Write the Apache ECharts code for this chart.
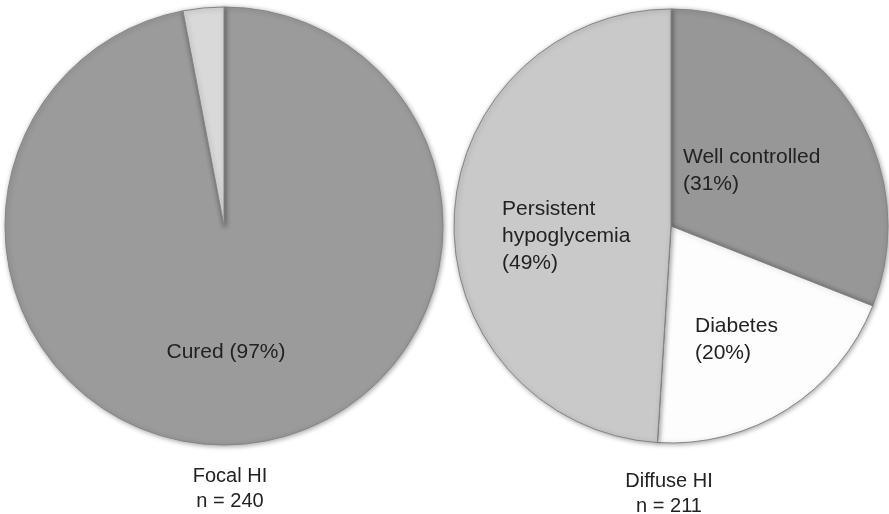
<!DOCTYPE html>
<html>
<head>
<meta charset="utf-8">
<script src="https://cdn.jsdelivr.net/npm/echarts@6/dist/echarts.min.js"></script>
<style>
  html, body { margin: 0; padding: 0; background: #fff; }
  #chart { width: 889px; height: 514px; }
</style>
</head>
<body>
<div id="chart"></div>
<script>
// focal HI outcomes
const focalNames = ['Cured', 'Other']
const focalValues = [97, 3]
const focalTitle = 'Focal HI\nn = 240'

// diffuse HI outcomes
const diffuseNames = ['Well controlled', 'Diabetes', 'Persistent\nhypoglycemia']
const diffuseValues = [31, 20, 49]
const diffuseTitle = 'Diffuse HI\nn = 211'

const font = 'Liberation Sans, Arial, sans-serif'
const textColor = '#222'

const chart = echarts.init(document.getElementById('chart'))

// label anchor positions (pixels), per slice
const focalLabelPos = [[226, 352], null]
const diffuseLabelPos = [[683, 171], [695, 340], [502, 236]]

const pieBase = {
  type: 'pie',
  startAngle: 90,
  clockwise: true,
  animation: false,
  silent: true,
  labelLine: { show: false },
  emphasis: { disabled: true }
}

const sliceStyle = {
  borderColor: '#858585',
  borderWidth: 1,
  shadowColor: 'rgba(0,0,0,0.35)',
  shadowBlur: 5,
  shadowOffsetX: 1,
  shadowOffsetY: 1
}

const titleStyle = { fontFamily: font, fontSize: 20, fontWeight: 'normal', color: textColor, lineHeight: 25 }

const options = {
  backgroundColor: '#fff',
  title: [
    { text: focalTitle, left: 225, top: 459, textAlign: 'center', textStyle: titleStyle },
    { text: diffuseTitle, left: 664, top: 464, textAlign: 'center', textStyle: titleStyle }
  ],
  series: [
    {
      ...pieBase,
      center: [224, 226],
      radius: 219,
      data: focalNames.map((n, i) => ({
        name: n,
        value: focalValues[i],
        itemStyle: { ...sliceStyle, color: ['#9b9b9b', '#d9d9d9'][i] },
        label: { show: i === 0 }
      })),
      label: {
        show: true,
        position: 'inside',
        formatter: (p) => p.name + ' (' + p.value + '%)',
        fontFamily: font,
        fontSize: 21,
        color: textColor,
        align: 'center'
      },
      labelLayout: (p) => {
        const pos = focalLabelPos[p.dataIndex]
        if (!pos) return {}
        return { x: pos[0], y: pos[1], align: 'center', verticalAlign: 'middle' }
      }
    },
    {
      ...pieBase,
      center: [671, 226],
      radius: 217,
      data: diffuseNames.map((n, i) => ({
        name: n,
        value: diffuseValues[i],
        itemStyle: { ...sliceStyle, color: ['#979797', '#fdfdfd', '#c9c9c9'][i] }
      })),
      label: {
        show: true,
        position: 'inside',
        formatter: (p) => p.name + '\n(' + p.value + '%)',
        fontFamily: font,
        fontSize: 21,
        lineHeight: 27,
        color: textColor,
        align: 'left'
      },
      labelLayout: (p) => {
        const pos = diffuseLabelPos[p.dataIndex]
        return { x: pos[0], y: pos[1], align: 'left', verticalAlign: 'middle' }
      }
    }
  ]
}

chart.setOption(options)
</script>
</body>
</html>
